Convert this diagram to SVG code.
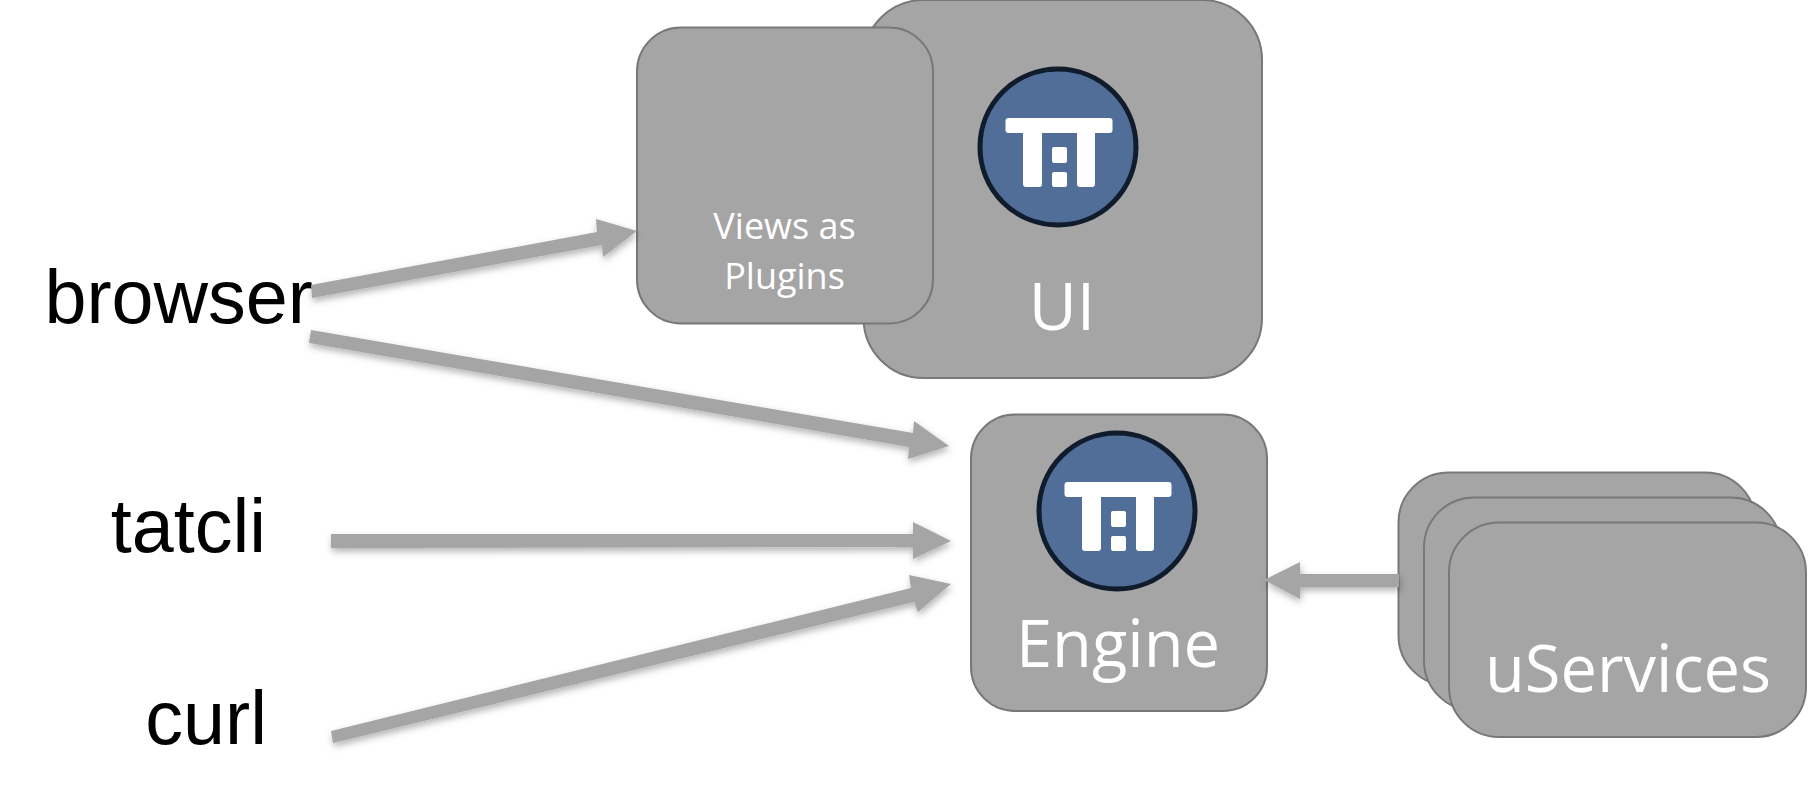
<svg xmlns="http://www.w3.org/2000/svg" width="1816" height="806" viewBox="0 0 1816 806">
<defs>
<filter id="sh" x="-10%" y="-30%" width="120%" height="170%"><feDropShadow dx="1" dy="3.500" stdDeviation="3.500" flood-color="#000" flood-opacity="0.3"/></filter>
<symbol id="logo" overflow="visible"><g fill="#fff"><rect x="-52.500" y="-29" width="107" height="15" rx="3"/><rect x="-35" y="-16" width="19" height="56" rx="3"/><rect x="19" y="-16" width="18" height="56" rx="3"/><rect x="-6" y="0" width="15" height="16" rx="2"/><rect x="-6" y="25" width="15" height="15" rx="2"/></g></symbol>
</defs>
<style>
.b{fill:#a5a5a5;stroke:#787878;stroke-width:2}
.c{fill:#516e99;stroke:#101b2b;stroke-width:5}
.w{fill:#fff;font-family:"Open Sans","Noto Sans",sans-serif;text-anchor:middle}
.k{fill:#000;font-family:"Liberation Sans",Arial,sans-serif;font-size:75.500px;text-anchor:end}
.a{fill:#a5a5a5}
</style>
<rect width="1816" height="806" fill="#fff"/>
<g id="ui"><rect class="b" x="863.500" y="0" width="398.500" height="378" rx="60"/><circle class="c" cx="1058" cy="147" r="78"/><use href="#logo" x="1058" y="147"/><text class="w" x="1062" y="330" font-size="66">UI</text></g>
<g id="views"><rect class="b" x="637" y="27.500" width="296" height="296" rx="44"/><text class="w" x="784.500" y="239" font-size="36">Views as</text><text class="w" x="784.500" y="289" font-size="36">Plugins</text></g>
<g id="engine"><rect class="b" x="971" y="414.500" width="296" height="296.500" rx="44"/><circle class="c" cx="1117" cy="511" r="78"/><use href="#logo" x="1117" y="511"/><text class="w" x="1118" y="667" font-size="65">Engine</text></g>
<g id="uservices"><rect class="b" x="1398.500" y="472.500" width="357" height="213" rx="50"/><rect class="b" x="1424" y="497.500" width="357" height="213" rx="50"/><rect class="b" x="1449" y="522.500" width="357" height="214.500" rx="50"/><text class="w" x="1628" y="692" font-size="65">uServices</text></g>
<g id="browser"><text class="k" x="313" y="322.500">browser</text></g>
<g id="tatcli"><text class="k" x="266" y="551.500">tatcli</text></g>
<g id="curl"><text class="k" x="267" y="744">curl</text></g>
<g id="connectors" filter="url(#sh)">
<polygon class="a" points="311,285 597,232 596,219 637,231 603,257 602,245 312,298"/>
<polygon class="a" points="311,330 913,433 914,421 949,446 908,459 909,447 309,343"/>
<polygon class="a" points="331,534 913,534 913,522 951,541 913,559 913,547 331,548"/>
<polygon class="a" points="331,731 911,588 909,575 951,584 918,612 914,602 333,743"/>
<polygon class="a" points="1399,574 1300,574 1300,562 1264,580 1300,599 1300,587 1399,587"/>
</g>
</svg>
